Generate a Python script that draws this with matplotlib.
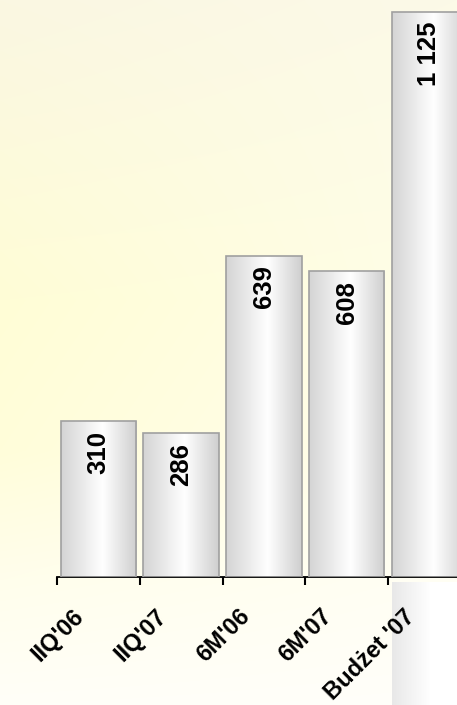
import numpy as np
import matplotlib.pyplot as plt

plt.rcParams['font.family'] = ['Liberation Sans', 'DejaVu Sans']

categories = ["IIQ'06", "IIQ'07", "6M'06", "6M'07", "Budżet '07"]
values = [310, 286, 639, 608, 1125]
value_labels = ['310', '286', '639', '608', '1 125']

W, H = 457, 705
fig = plt.figure(figsize=(W / 100, H / 100), dpi=100)

# background: cream on top, yellow in the middle left, nearly white at the bottom
bg = fig.add_axes([0, 0, 1, 1], zorder=0)
ys = np.arange(H)
stops = [0, 300, 450, 580, 705]
left_col = np.array([[250, 247, 226], [255, 253, 214], [255, 253, 218],
                     [255, 254, 236], [255, 255, 248]]) / 255
right_col = np.array([[252, 250, 232], [255, 254, 232], [255, 254, 236],
                      [255, 255, 244], [255, 255, 250]]) / 255
L = np.stack([np.interp(ys, stops, left_col[:, c]) for c in range(3)], axis=1)
R = np.stack([np.interp(ys, stops, right_col[:, c]) for c in range(3)], axis=1)
fx = np.linspace(0, 1, W)[None, :, None]
img = L[:, None, :] * (1 - fx) + R[:, None, :] * fx
gx = np.arange(W)
band = np.clip((gx - 392) / 38.0, 0, 1)
grey = 0.91 + 0.09 * band
img[582:, 392:, :] = grey[392:][None, :, None]
bg.imshow(img, aspect='auto', extent=(0, 1, 0, 1))
bg.axis('off')

ax = fig.add_axes([57 / W, 1 - 577 / H, 1 - 57 / W, 577 / H], zorder=1)
ax.patch.set_visible(False)
x = np.arange(len(categories))
bars = ax.bar(x, values, width=0.91, facecolor='none', edgecolor='#a0a0a0',
              linewidth=1.2, zorder=3)

# horizontal grey-white-grey shading on each bar
t = np.linspace(0, 1, 200)
shade = np.interp(t, [0, 0.55, 1], [0.83, 1.0, 0.81])
grad = np.repeat(shade[None, :, None], 3, axis=2)
for b in bars:
    x0, w, h = b.get_x(), b.get_width(), b.get_height()
    im = ax.imshow(grad, extent=(x0, x0 + w, 0, h), aspect='auto', zorder=2)
    im.set_clip_path(b)

for xi, v, lab in zip(x, values, value_labels):
    ax.annotate(lab, xy=(xi, v), xytext=(0, -7), textcoords='offset points',
                rotation=90, ha='center', va='top', fontsize=18.5,
                fontweight='bold', zorder=4)

ax.set_xlim(-0.5, -0.5 + 400 / 82.75)
ax.set_ylim(0, 577 / 0.5025)
for s in ['left', 'right', 'top']:
    ax.spines[s].set_visible(False)
ax.spines['bottom'].set_linewidth(1.3)
ax.set_yticks([])
ax.set_xticks(x)
ax.set_xticklabels([])
ax.tick_params(axis='x', which='major', length=0)
ax.set_xticks(np.append([-0.5], x[:-1] + 0.5), minor=True)
ax.tick_params(axis='x', which='minor', length=6, width=1.5, direction='out')

for xi, lab in zip(x, categories):
    ax.annotate(lab, xy=(xi, 0), xytext=(-13, -26), textcoords='offset points',
                rotation=45, ha='right', va='center', rotation_mode='anchor',
                fontsize=17, fontweight='bold', annotation_clip=False)

fig.savefig('out.png', dpi=100)
